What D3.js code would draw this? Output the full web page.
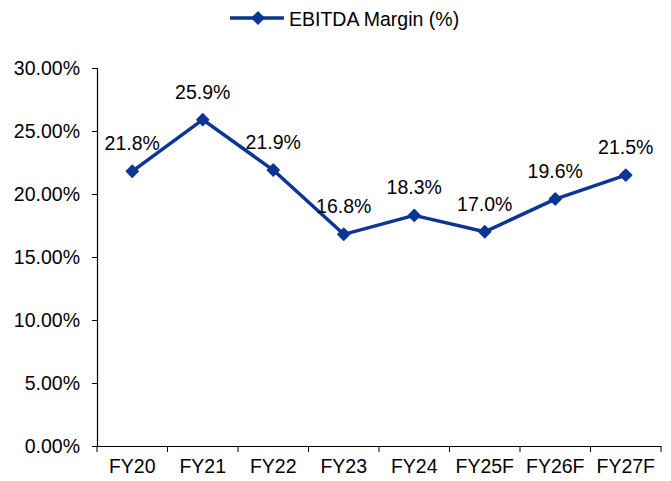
<!DOCTYPE html>
<html><head><meta charset="utf-8">
<script src="https://cdn.jsdelivr.net/npm/d3@7"></script>
<style>body{margin:0;background:#fff}svg{display:block}text{font-family:"Liberation Sans",Arial,sans-serif;fill:#000}</style>
</head><body><svg id="c" width="671" height="481"></svg>
<script>
const categories = ["FY20","FY21","FY22","FY23","FY24","FY25F","FY26F","FY27F"];
const margins = [21.8, 25.9, 21.9, 16.8, 18.3, 17.0, 19.6, 21.5];
const yTicks = [0, 5, 10, 15, 20, 25, 30];
const seriesName = "EBITDA Margin (%)";
const color = "#0d3593";

const svg = d3.select("#c");
const L = 97, R = 661, T = 68, B = 446;
const x = d3.scaleBand().domain(categories).range([L, R]);
const y = d3.scaleLinear().domain([0, 30]).range([B, T]);

const yAxis = svg.append("g").attr("transform", `translate(${L},0)`)
  .call(d3.axisLeft(y).tickValues(yTicks).tickFormat(d => d.toFixed(2) + "%").tickSize(5).tickPadding(12));
yAxis.selectAll("text").style("font-size", "19.5px");

const xAxis = svg.append("g").attr("transform", `translate(0,${B})`)
  .call(d3.axisBottom(x).tickSize(0).tickPadding(13));
xAxis.selectAll("text").style("font-size", "19.5px");
const bounds = categories.map(c => x(c)).concat([R]);
xAxis.selectAll(".sep").data(bounds).enter().append("line").attr("class","sep")
  .attr("x1", d => d).attr("x2", d => d).attr("y1", 0).attr("y2", 6).attr("stroke", "#000");
svg.selectAll(".domain").attr("stroke", "#000").attr("stroke-width", 1.2);
svg.selectAll(".tick line").attr("stroke", "#000");

const cx = d => x(d) + x.bandwidth() / 2;
const line = d3.line().x((d, i) => cx(categories[i])).y(d => y(d));
svg.append("path").datum(margins).attr("d", line).attr("fill", "none")
  .attr("stroke", color).attr("stroke-width", 3.5).attr("stroke-linejoin", "round");

svg.selectAll(".pt").data(margins).enter().append("path")
  .attr("transform", (d, i) => `translate(${cx(categories[i])},${y(d)}) rotate(45)`)
  .attr("d", d3.symbol().type(d3.symbolSquare).size(70)).attr("fill", color).attr("stroke", color).attr("stroke-width", 1.5).attr("stroke-linejoin","round");

svg.selectAll(".lbl").data(margins).enter().append("text")
  .attr("x", (d, i) => cx(categories[i])).attr("y", d => y(d) - 21)
  .attr("text-anchor", "middle").style("font-size", "19.5px").text(d => d.toFixed(1) + "%");

// legend
const lg = svg.append("g");
lg.append("line").attr("x1", 230).attr("x2", 284).attr("y1", 18).attr("y2", 18)
  .attr("stroke", color).attr("stroke-width", 3.5);
lg.append("path").attr("transform", "translate(258,18) rotate(45)")
  .attr("d", d3.symbol().type(d3.symbolSquare).size(70)).attr("fill", color).attr("stroke", color).attr("stroke-width", 1.5);
lg.append("text").attr("x", 289).attr("y", 26).style("font-size", "19.5px").text(seriesName);
</script></body></html>
